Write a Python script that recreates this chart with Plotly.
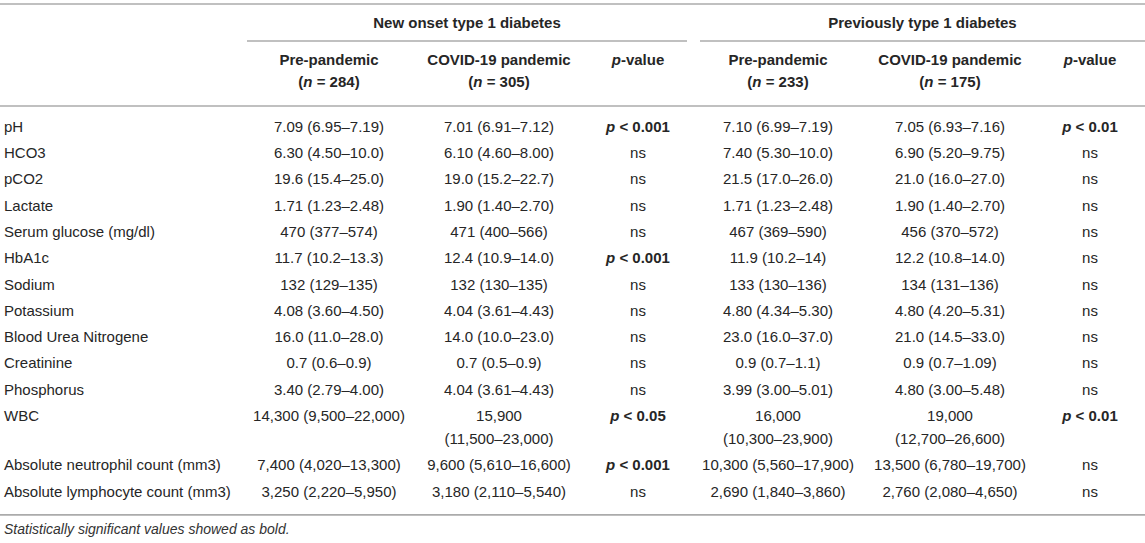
import plotly.graph_objects as go

# table content
row_labels = ["pH", "HCO3", "pCO2", "Lactate", "Serum glucose (mg/dl)", "HbA1c", "Sodium",
              "Potassium", "Blood Urea Nitrogene", "Creatinine", "Phosphorus", "WBC",
              "Absolute neutrophil count (mm3)", "Absolute lymphocyte count (mm3)"]

new_pre = ["7.09 (6.95–7.19)", "6.30 (4.50–10.0)", "19.6 (15.4–25.0)", "1.71 (1.23–2.48)",
           "470 (377–574)", "11.7 (10.2–13.3)", "132 (129–135)", "4.08 (3.60–4.50)",
           "16.0 (11.0–28.0)", "0.7 (0.6–0.9)", "3.40 (2.79–4.00)", "14,300 (9,500–22,000)",
           "7,400 (4,020–13,300)", "3,250 (2,220–5,950)"]
new_covid = ["7.01 (6.91–7.12)", "6.10 (4.60–8.00)", "19.0 (15.2–22.7)", "1.90 (1.40–2.70)",
             "471 (400–566)", "12.4 (10.9–14.0)", "132 (130–135)", "4.04 (3.61–4.43)",
             "14.0 (10.0–23.0)", "0.7 (0.5–0.9)", "4.04 (3.61–4.43)", "15,900<br>(11,500–23,000)",
             "9,600 (5,610–16,600)", "3,180 (2,110–5,540)"]
new_p = ["p < 0.001", "ns", "ns", "ns", "ns", "p < 0.001", "ns", "ns", "ns", "ns", "ns",
         "p < 0.05", "p < 0.001", "ns"]

prev_pre = ["7.10 (6.99–7.19)", "7.40 (5.30–10.0)", "21.5 (17.0–26.0)", "1.71 (1.23–2.48)",
            "467 (369–590)", "11.9 (10.2–14)", "133 (130–136)", "4.80 (4.34–5.30)",
            "23.0 (16.0–37.0)", "0.9 (0.7–1.1)", "3.99 (3.00–5.01)", "16,000<br>(10,300–23,900)",
            "10,300 (5,560–17,900)", "2,690 (1,840–3,860)"]
prev_covid = ["7.05 (6.93–7.16)", "6.90 (5.20–9.75)", "21.0 (16.0–27.0)", "1.90 (1.40–2.70)",
              "456 (370–572)", "12.2 (10.8–14.0)", "134 (131–136)", "4.80 (4.20–5.31)",
              "21.0 (14.5–33.0)", "0.9 (0.7–1.09)", "4.80 (3.00–5.48)", "19,000<br>(12,700–26,600)",
              "13,500 (6,780–19,700)", "2,760 (2,080–4,650)"]
prev_p = ["p < 0.01", "ns", "ns", "ns", "ns", "ns", "ns", "ns", "ns", "ns", "ns",
          "p < 0.01", "ns", "ns"]

group_titles = ["New onset type 1 diabetes", "Previously type 1 diabetes"]
col_titles = ["Pre-pandemic", "COVID-19 pandemic", "p-value",
              "Pre-pandemic", "COVID-19 pandemic", "p-value"]
col_counts = [284, 305, None, 233, 175, None]
footnote = "Statistically significant values showed as bold."

# geometry (pixels, y measured downward)
W, H = 1145, 543
col_x = [329, 499, 638, 778, 950, 1090]
label_x = 4
row_top = 128
row_pitch = 26.3
line_pitch = 23
text_color = "#262626"
rule_color = "#ababab"
font = "Liberation Sans, Arial, Helvetica, sans-serif"


def fmt_p(s):
    if s.startswith("p"):
        return "<b><i>p</i> &lt; " + s.split("<")[1].strip() + "</b>"
    return s


columns = [new_pre, new_covid, [fmt_p(s) for s in new_p],
           prev_pre, prev_covid, [fmt_p(s) for s in prev_p]]

# row y positions from the number of lines in each row
row_y = []
y = row_top
for i in range(len(row_labels)):
    row_y.append(y)
    n_lines = max(len(c[i].split("<br>")) for c in columns)
    y += row_pitch + (n_lines - 1) * line_pitch
last_line_y = row_y[-1]

fig = go.Figure()

# row labels
fig.add_trace(go.Scatter(
    x=[label_x] * len(row_labels), y=row_y, text=row_labels,
    mode="text", textposition="middle right",
    textfont=dict(family=font, size=15, color=text_color),
    hoverinfo="skip", showlegend=False))

# body cells, one point per text line
for cx, col in zip(col_x, columns):
    xs, ys, ts = [], [], []
    for ry, cell in zip(row_y, col):
        for k, part in enumerate(cell.split("<br>")):
            xs.append(cx)
            ys.append(ry + k * line_pitch)
            ts.append(part)
    fig.add_trace(go.Scatter(
        x=xs, y=ys, text=ts, mode="text", textposition="middle center",
        textfont=dict(family=font, size=15, color=text_color),
        hoverinfo="skip", showlegend=False))

# column headers
hx, hy, ht = [], [], []
for cx, title, n in zip(col_x, col_titles, col_counts):
    if title == "p-value":
        title = "<i>p</i>-value"
    hx.append(cx); hy.append(61); ht.append("<b>" + title + "</b>")
    if n is not None:
        hx.append(cx); hy.append(83); ht.append("<b>(<i>n</i> = %d)</b>" % n)
fig.add_trace(go.Scatter(
    x=hx, y=hy, text=ht, mode="text", textposition="middle center",
    textfont=dict(family=font, size=15, color=text_color),
    hoverinfo="skip", showlegend=False))

# group headers
group_spans = [(247, 687), (700, W)]
fig.add_trace(go.Scatter(
    x=[(a + b) / 2 for a, b in group_spans], y=[24, 24],
    text=["<b>" + g + "</b>" for g in group_titles],
    mode="text", textposition="middle center",
    textfont=dict(family=font, size=15, color=text_color),
    hoverinfo="skip", showlegend=False))

# footnote
fig.add_trace(go.Scatter(
    x=[label_x], y=[last_line_y + 38], text=["<i>" + footnote + "</i>"],
    mode="text", textposition="middle right",
    textfont=dict(family=font, size=14, color="#333333"),
    hoverinfo="skip", showlegend=False))

# rules
def rule(x0, x1, yy):
    fig.add_shape(type="line", x0=x0, x1=x1, y0=yy, y1=yy, xref="x", yref="y",
                  line=dict(color=rule_color, width=1.6))

rule(0, W, 4)
for a, b in group_spans:
    rule(a, b, 41)
rule(0, W, 106)
rule(0, W, last_line_y + 22)

fig.update_layout(
    width=W, height=H,
    margin=dict(l=0, r=0, t=0, b=0),
    paper_bgcolor="white", plot_bgcolor="white",
    xaxis=dict(range=[0, W], visible=False, fixedrange=True),
    yaxis=dict(range=[H, 0], visible=False, fixedrange=True),
)

# drop the default page margin so the figure sits at the window origin
fig.write_html("out.html", post_script="document.body.style.margin='0';",
               config={"displayModeBar": False})
